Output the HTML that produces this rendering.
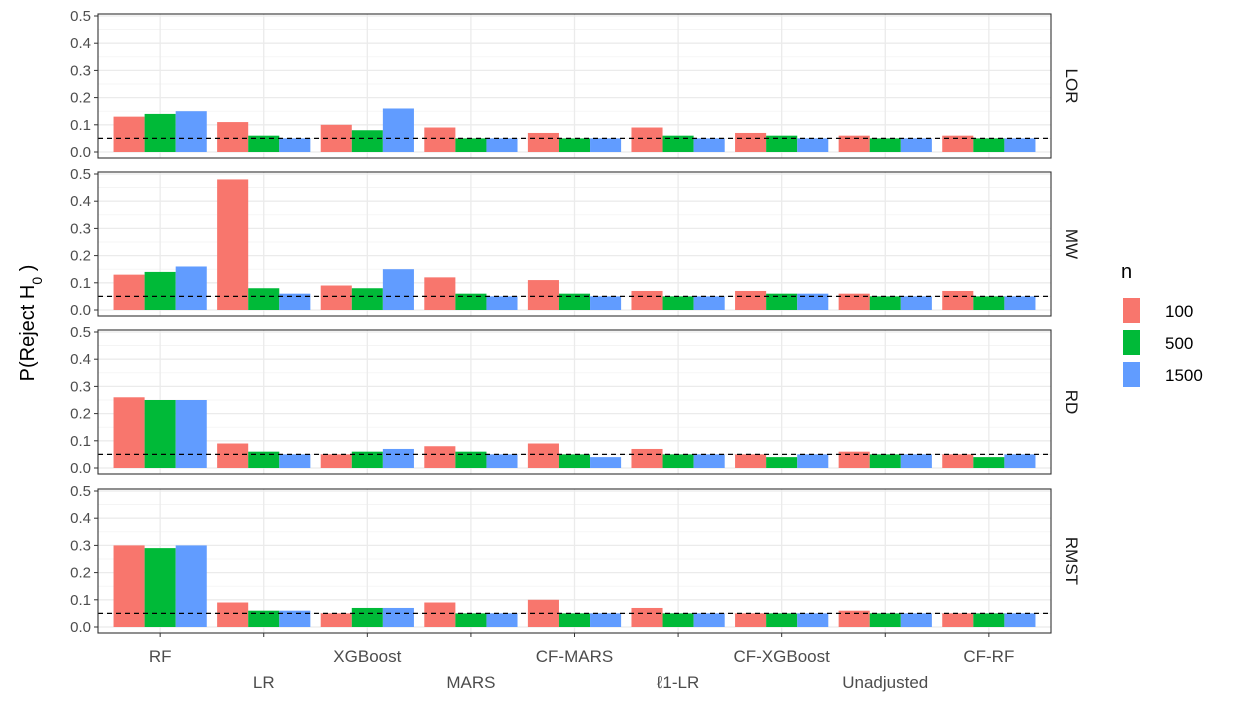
<!DOCTYPE html>
<html><head><meta charset="utf-8"><style>
body{margin:0;background:#fff}
svg{font-family:"Liberation Sans",sans-serif}
</style></head><body>
<svg id="c" width="1259" height="708" xmlns="http://www.w3.org/2000/svg"></svg>
<script>
const categories=["RF","LR","XGBoost","MARS","CF-MARS","\u21131-LR","CF-XGBoost","Unadjusted","CF-RF"];
const panels=["LOR","MW","RD","RMST"];
const groups=["100","500","1500"];
const colors=["#F8766D","#00BA38","#619CFF"];
const yTicks=[0,0.1,0.2,0.3,0.4,0.5];
const yTickLabels=["0.0","0.1","0.2","0.3","0.4","0.5"];
const refLine=0.05;
const lor100=[.13,.11,.10,.09,.07,.09,.07,.06,.06];
const lor500=[.14,.06,.08,.05,.05,.06,.06,.05,.05];
const lor1500=[.15,.05,.16,.05,.05,.05,.05,.05,.05];
const mw100=[.13,.48,.09,.12,.11,.07,.07,.06,.07];
const mw500=[.14,.08,.08,.06,.06,.05,.06,.05,.05];
const mw1500=[.16,.06,.15,.05,.05,.05,.06,.05,.05];
const rd100=[.26,.09,.05,.08,.09,.07,.05,.06,.05];
const rd500=[.25,.06,.06,.06,.05,.05,.04,.05,.04];
const rd1500=[.25,.05,.07,.05,.04,.05,.05,.05,.05];
const rmst100=[.30,.09,.05,.09,.10,.07,.05,.06,.05];
const rmst500=[.29,.06,.07,.05,.05,.05,.05,.05,.05];
const rmst1500=[.30,.06,.07,.05,.05,.05,.05,.05,.05];
const series=[[lor100,lor500,lor1500],[mw100,mw500,mw1500],[rd100,rd500,rd1500],[rmst100,rmst500,rmst1500]];

const svg=document.getElementById('c');
const NS="http://www.w3.org/2000/svg";
function mk(t,a,p){const e=document.createElementNS(NS,t);for(const k in a)e.setAttribute(k,a[k]);(p||svg).appendChild(e);return e;}
const L=98,R=1051,step=(R-L)/(categories.length-1+1.2);
const xc=i=>L+step*(0.6+i);
const unit=272;
const y0s=[152,310,468,627];
const bw=step*0.9/3;
panels.forEach((p,pi)=>{
  const y0=y0s[pi];
  const y=v=>y0-v*unit;
  const top=y(0.5)-2,bot=y0+6;
  const g=mk('g',{});
  
  
  // minor grid
  for(let v=0.05;v<0.5;v+=0.1){const l=mk('line',{x1:L,x2:R,y1:y(v),y2:y(v),stroke:'#f0f0f0','stroke-width':0.7},g);}
  yTicks.forEach((v,i)=>{
    const l=mk('line',{x1:L,x2:R,y1:y(v),y2:y(v),stroke:'#ebebeb','stroke-width':1.3},g);
    
    mk('line',{x1:L-4,x2:L,y1:y(v),y2:y(v),stroke:'#333','stroke-width':1},g);
    const t=mk('text',{x:L-7,y:y(v)+5,'text-anchor':'end','font-size':15,fill:'#4d4d4d'},g);
    t.textContent=yTickLabels[i];
    
  });
  categories.forEach((c,i)=>{mk('line',{x1:xc(i),x2:xc(i),y1:top,y2:bot,stroke:'#ebebeb','stroke-width':1.3},g);});
  series[pi].forEach((arr,si)=>{
    arr.forEach((v,i)=>{
      const x=xc(i)-1.5*bw+si*bw;
      const r=mk('rect',{x:x,y:y(v),width:bw,height:y0-y(v),fill:colors[si]},g);
      
      
    });
  });
  const d=mk('line',{x1:L,x2:R,y1:y(refLine),y2:y(refLine),stroke:'#000','stroke-width':1.3,'stroke-dasharray':'5,4'},g);
  
  mk('rect',{x:L,y:top,width:R-L,height:bot-top,fill:'none',stroke:'#333','stroke-width':1.1},g);
  const s=mk('text',{x:1066,y:(top+bot)/2,'font-size':17,fill:'#1a1a1a','text-anchor':'middle',transform:`rotate(90 1066 ${(top+bot)/2})`},g);
  s.textContent=p;
  
});
const b=y0s[3]+6;
categories.forEach((c,i)=>{
  mk('line',{x1:xc(i),x2:xc(i),y1:b,y2:b+4,stroke:'#333','stroke-width':1});
  const t=mk('text',{x:xc(i),y:i%2?688:662,'text-anchor':'middle','font-size':17,fill:'#4d4d4d'});
  t.textContent=c;
  
});
const yt=mk('text',{x:34,y:323,'font-size':20,fill:'#000','text-anchor':'middle',transform:'rotate(-90 34 323)'});
yt.innerHTML='P(Reject H<tspan baseline-shift="sub" font-size="14">0</tspan> )';

const lt=mk('text',{x:1121,y:278,'font-size':20,fill:'#000'});lt.textContent='n';

groups.forEach((gname,i)=>{
  const yy=298+i*32;
  const r=mk('rect',{x:1123,y:yy,width:17,height:25,fill:colors[i]});
  
  const t=mk('text',{x:1165,y:yy+19,'font-size':17,fill:'#000'});t.textContent=gname;
  
});
</script>
</body></html>
